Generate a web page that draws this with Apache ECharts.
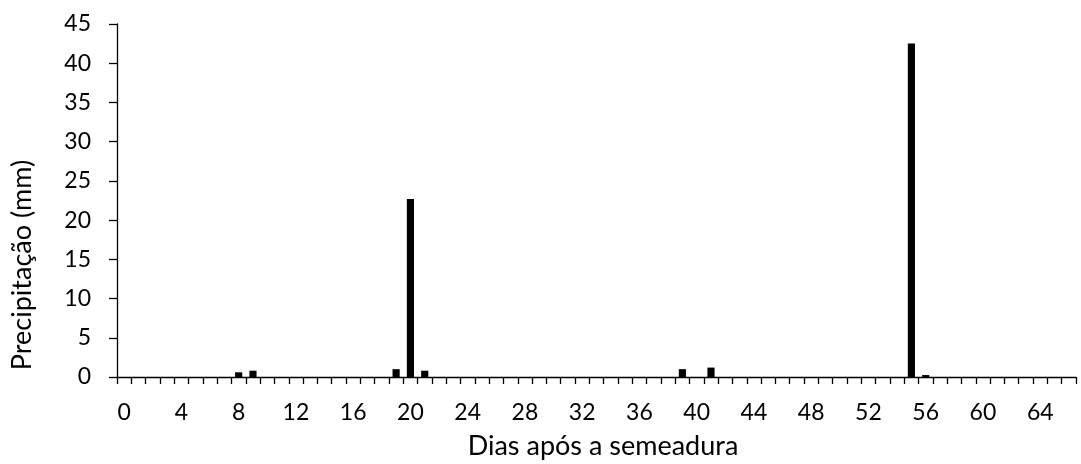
<!DOCTYPE html>
<html>
<head>
<meta charset="utf-8">
<script src="https://cdn.jsdelivr.net/npm/echarts@6/dist/echarts.min.js"></script>
<style>
html,body{margin:0;padding:0;background:#fff;}
#chart{width:1081px;height:464px;}
</style>
</head>
<body>
<div id="chart"></div>
<script>
const days = ["0","1","2","3","4","5","6","7","8","9","10","11","12","13","14","15","16","17","18","19","20","21","22","23","24","25","26","27","28","29","30","31","32","33","34","35","36","37","38","39","40","41","42","43","44","45","46","47","48","49","50","51","52","53","54","55","56","57","58","59","60","61","62","63","64","65","66"];
const precipitation = [0,0,0,0,0,0,0,0,0.6,0.8,0,0,0,0,0,0,0,0,0,1.0,22.7,0.8,0,0,0,0,0,0,0,0,0,0,0,0,0,0,0,0,0,1.0,0,1.2,0,0,0,0,0,0,0,0,0,0,0,0,0,42.5,0.25,0,0,0,0,0,0,0,0,0,0];
const yTitle = "Precipitação (mm)";
const xTitle = "Dias após a semeadura";

const FONT = "Lato";
const chart = echarts.init(document.getElementById('chart'), null, {renderer:'canvas'});
chart.setOption({
  animation:false,
  backgroundColor:'#ffffff',
  grid:{left:117,right:5,top:24,bottom:87,containLabel:false},
  xAxis:{
    type:'category',
    data:days,
    boundaryGap:true,
    axisLine:{lineStyle:{color:'#000',width:1.3}},
    axisTick:{show:true,interval:0,alignWithLabel:false,length:7,lineStyle:{color:'#000',width:1.3}},
    axisLabel:{interval:3,color:'#000',fontFamily:FONT,fontSize:23,margin:24},
    splitLine:{show:false}
  },
  yAxis:{
    type:'value',
    min:0,max:45,interval:5,
    axisLine:{show:true,lineStyle:{color:'#000',width:1.3}},
    axisTick:{show:true,length:8,lineStyle:{color:'#000',width:1.3}},
    axisLabel:{color:'#000',fontFamily:FONT,fontSize:23,margin:26},
    splitLine:{show:false}
  },
  graphic:[
    {type:'text',x:22,y:265,rotation:Math.PI/2,
     style:{text:yTitle,fill:'#000',font:'27px '+FONT,textAlign:'center',textVerticalAlign:'middle'}},
    {type:'text',x:603,y:446,
     style:{text:xTitle,fill:'#000',font:'27px '+FONT,textAlign:'center',textVerticalAlign:'middle'}}
  ],
  series:[{
    type:'bar',
    data:precipitation,
    barWidth:'50%',
    itemStyle:{color:'#000'}
  }]
});
</script>
</body>
</html>
